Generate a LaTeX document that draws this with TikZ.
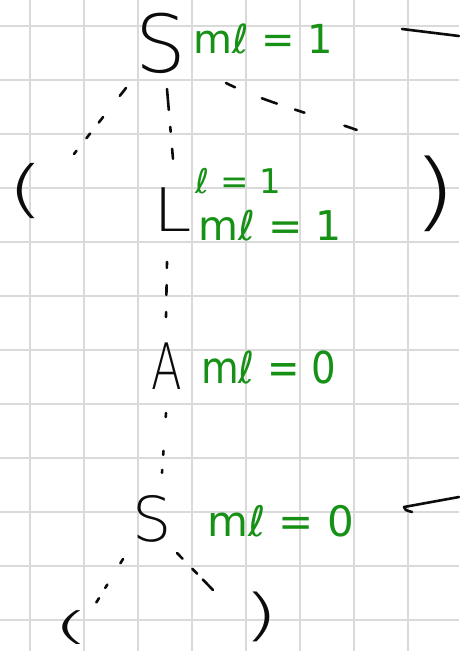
\documentclass[tikz,border=0pt]{standalone}
\usepackage{fontspec}
\newfontfamily\handfont{DejaVu Sans ExtraLight}
\newfontfamily\notefont{DejaVu Sans}
\definecolor{ink}{RGB}{12,12,12}
\definecolor{notegreen}{RGB}{22,145,22}
\definecolor{gridgray}{RGB}{218,218,218}

\begin{document}
\begin{tikzpicture}[x=1pt,y=-1pt,
  sym/.style={inner sep=0pt, text=ink},
  attr/.style={inner sep=0pt, anchor=base west, text=notegreen},
  pen/.style={draw=ink, line width=2.6pt, line cap=round, line join=round},
  gridline/.style={draw=gridgray, line width=1.5pt}]

% paper and squared grid
\fill[white] (0,0) rectangle (459,651);
\useasboundingbox (0,0) rectangle (459,651);
\foreach \gx in {30,84,...,408} \draw[gridline] (\gx,0) -- (\gx,651);
\foreach \gy in {26,80,...,620} \draw[gridline] (0,\gy) -- (459,\gy);

% symbols of the derivation tree
\node[sym, font=\handfont\fontsize{80}{80}\selectfont] (s1) at (161,43) {S};
\node[sym, font=\handfont\fontsize{60}{60}\selectfont, xscale=1.15] (l1) at (173,210) {L};
\node[sym, font=\handfont\fontsize{64}{64}\selectfont, xscale=0.7] (a1) at (167,366) {A};
\node[sym, font=\handfont\fontsize{62}{62}\selectfont] (s2) at (152,519) {S};
\node[sym, font=\handfont\fontsize{62}{62}\selectfont, xscale=1.6] (lp1) at (26,191) {(};
\node[sym, font=\handfont\fontsize{85}{85}\selectfont, xscale=1.4] (rp1) at (435,194) {)};
\node[sym, font=\handfont\fontsize{38}{38}\selectfont, xscale=2.7] (lp2) at (72,628) {(};
\node[sym, font=\handfont\fontsize{56}{56}\selectfont, xscale=1.7] (rp2) at (261,617) {)};

% attribute values
\node[attr, font=\notefont\fontsize{40}{40}\selectfont] (v1) at (193,53) {mℓ = 1};
\node[attr, font=\notefont\fontsize{34}{34}\selectfont] (v2) at (195,193) {ℓ = 1};
\node[attr, font=\notefont\fontsize{41}{41}\selectfont] (v3) at (198,240) {mℓ = 1};
\node[attr, font=\notefont\fontsize{44}{44}\selectfont, xscale=0.88] (v4) at (201,383) {mℓ = 0};
\node[attr, font=\notefont\fontsize{42}{42}\selectfont] (v5) at (207,536) {mℓ = 0};

% ends of the dotted branches
\coordinate (s1a) at (126,88);  \coordinate (lp1a) at (74,154);
\coordinate (s1b) at (167,89);  \coordinate (l1a)  at (173,159);
\coordinate (s1c) at (226,83);  \coordinate (rp1a) at (357,130);
\coordinate (l1b) at (167,262); \coordinate (a1a)  at (166,317);
\coordinate (a1b) at (166,413); \coordinate (s2a)  at (162,473);
\coordinate (s2b) at (123,559); \coordinate (lp2a) at (96,603);
\coordinate (s2c) at (177,553); \coordinate (rp2a) at (213,590);

% dotted branches
\draw[pen, dash pattern=on 10pt off 27pt on 7pt off 14pt on 6pt off 16pt on 7pt off 40pt] (s1a) -- (lp1a);
\draw[pen, dash pattern=on 21pt off 17pt on 5pt off 17pt on 10pt off 40pt] (s1b) -- (l1a);
\draw[pen, dash pattern=on 10pt off 29pt on 16pt off 19pt on 10pt off 42pt on 13pt off 40pt]
  (s1c) .. controls (262,101) and (305,112) .. (rp1a);
\draw[pen, dash pattern=on 6pt off 17pt on 10pt off 17pt on 5pt off 40pt] (l1b) -- (a1a);
\draw[pen, dash pattern=on 4pt off 34pt on 4pt off 15pt on 3pt off 40pt] (a1b) -- (s2a);
\draw[pen, dash pattern=on 5pt off 25pt on 4pt off 12pt on 5pt off 40pt] (s2b) -- (lp2a);
\draw[pen, dash pattern=on 8pt off 14pt on 7pt off 8pt on 15pt off 40pt] (s2c) -- (rp2a);

% strokes running in from the right edge
\coordinate (e1) at (459,36);  \coordinate (e1end) at (402,29);
\draw[pen] (e1) -- (e1end);
\coordinate (e2) at (459,497); \coordinate (e2tip) at (404,507); \coordinate (e2hook) at (412,512);
\draw[pen] (e2) -- (e2tip) .. controls (405,510) .. (e2hook);
\end{tikzpicture}
\end{document}
